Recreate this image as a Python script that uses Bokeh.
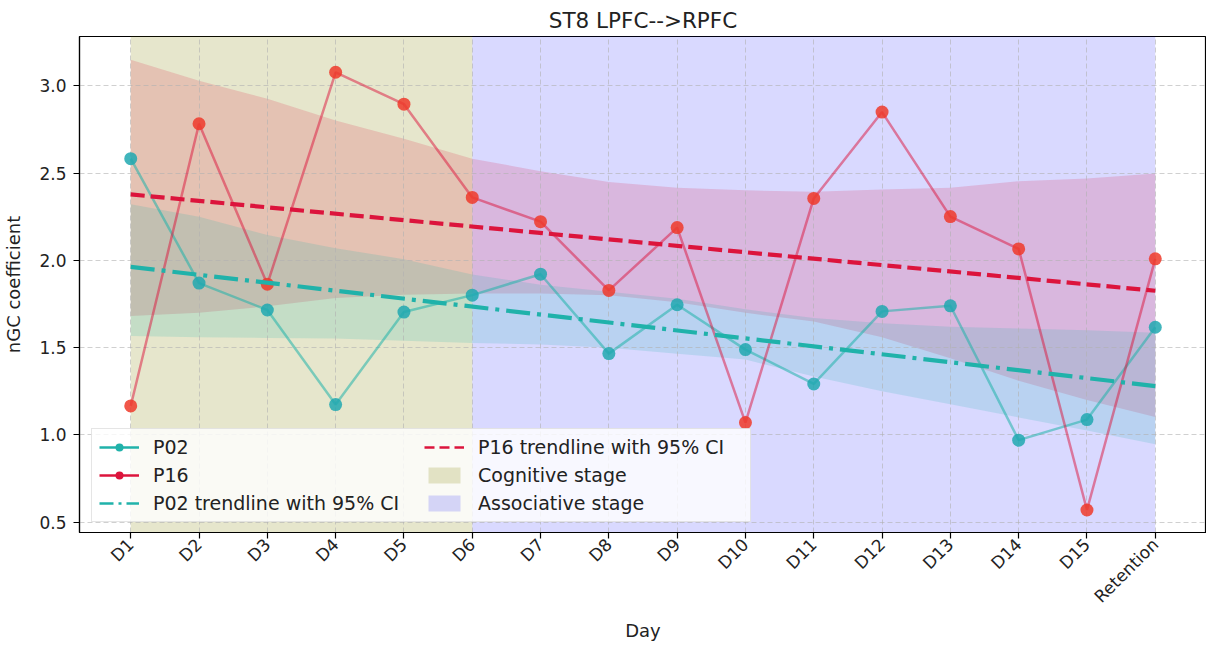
import math
from bokeh.plotting import figure
from bokeh.models import (Range1d, FixedTicker, PrintfTickFormatter, Legend,
                          LegendItem, ColumnDataSource)
from bokeh.embed import file_html
from bokeh.resources import INLINE

# ---------------- data ----------------
days = ["D1", "D2", "D3", "D4", "D5", "D6", "D7", "D8", "D9", "D10",
        "D11", "D12", "D13", "D14", "D15", "Retention"]
p02 = [2.583, 1.870, 1.716, 1.174, 1.704, 1.801, 1.921, 1.466, 1.746, 1.489,
       1.292, 1.708, 1.740, 0.970, 1.088, 1.617]
p16 = [1.166, 2.783, 1.864, 3.078, 2.895, 2.361, 2.222, 1.828, 2.188, 1.071,
       2.355, 2.850, 2.251, 2.066, 0.570, 2.009]
# trendline values at first day and at Retention
p02_trend = [1.963, 1.280]
p16_trend = [2.378, 1.826]
# 95% CI band edges per day
p02_ci_upper = [2.322, 2.250, 2.146, 2.070, 2.007, 1.920, 1.860, 1.820, 1.780,
                1.720, 1.670, 1.640, 1.620, 1.610, 1.600, 1.585]
p02_ci_lower = [1.567, 1.560, 1.556, 1.552, 1.540, 1.527, 1.518, 1.499, 1.465,
                1.432, 1.335, 1.250, 1.176, 1.100, 1.025, 0.947]
p16_ci_upper = [3.150, 3.030, 2.926, 2.802, 2.697, 2.583, 2.511, 2.450, 2.416,
                2.402, 2.393, 2.406, 2.416, 2.454, 2.469, 2.498]
p16_ci_lower = [1.682, 1.700, 1.737, 1.784, 1.803, 1.810, 1.810, 1.800, 1.760,
                1.700, 1.650, 1.560, 1.440, 1.310, 1.200, 1.103]
cognitive_stage = ("D1", "D6")
associative_stage = ("D6", "Retention")
y_ticks = [0.5, 1.0, 1.5, 2.0, 2.5, 3.0]
y_limits = (0.441, 3.283)

FONT = "DejaVu Sans"
NAN = float("nan")
xs = list(range(len(days)))
src = ColumnDataSource(dict(x=xs, p02=p02, p16=p16,
                            p02u=p02_ci_upper, p02l=p02_ci_lower,
                            p16u=p16_ci_upper, p16l=p16_ci_lower))

p = figure(width=1206, height=643,
           x_range=Range1d(-0.75, len(days) - 0.25),
           y_range=Range1d(*y_limits),
           output_backend="svg", toolbar_location=None,
           title="ST8 LPFC-->RPFC",
           min_border_left=79, min_border_right=0,
           min_border_top=36, min_border_bottom=107)
p.background_fill_color = "white"
p.border_fill_color = "white"
p.outline_line_color = "black"
p.outline_line_width = 1.2
p.outline_line_alpha = 1.0

p.title.text_font = FONT
p.title.text_font_size = "21.5px"
p.title.text_font_style = "normal"
p.title.align = "center"
p.title.text_color = "#222222"
p.title.standoff = 8

# stage shading
cog = p.quad(left=[days.index(cognitive_stage[0])], right=[days.index(cognitive_stage[1])],
             bottom=[y_limits[0] - 1], top=[y_limits[1] + 1],
             fill_color="olive", fill_alpha=0.2, line_color=None, level="image")
assoc = p.quad(left=[days.index(associative_stage[0])], right=[days.index(associative_stage[1])],
               bottom=[y_limits[0] - 1], top=[y_limits[1] + 1],
               fill_color="blue", fill_alpha=0.15, line_color=None, level="image")

# CI bands
p.varea(x="x", y1="p16l", y2="p16u", source=src, fill_color="crimson",
        fill_alpha=0.17, level="image")
p.varea(x="x", y1="p02l", y2="p02u", source=src, fill_color="lightseagreen",
        fill_alpha=0.17, level="image")

# series
p.line("x", "p02", source=src, line_color="lightseagreen", line_width=2.5, line_alpha=0.55)
p.scatter("x", "p02", source=src, size=13, fill_color="#20a8b0", fill_alpha=0.85,
          line_color=None)
p.line("x", "p16", source=src, line_color="crimson", line_width=2.5, line_alpha=0.5)
p.scatter("x", "p16", source=src, size=13, fill_color="#ee3a2a", fill_alpha=0.85,
          line_color=None)

# trendlines
tx = [0, len(days) - 1]
p.line(tx, p02_trend, line_color="lightseagreen", line_width=4.2, line_dash="24 7 4 7")
p.line(tx, p16_trend, line_color="crimson", line_width=4.2, line_dash="14 6")

# legend-only renderers (no visible data)
lg_p02_l = p.line([NAN], [NAN], line_color="lightseagreen", line_width=2.5)
lg_p02_m = p.scatter([NAN], [NAN], size=12, fill_color="lightseagreen", line_color=None)
lg_p16_l = p.line([NAN], [NAN], line_color="crimson", line_width=2.5)
lg_p16_m = p.scatter([NAN], [NAN], size=12, fill_color="crimson", line_color=None)
lg_t02 = p.line([NAN], [NAN], line_color="lightseagreen", line_width=2.5, line_dash="14 5 3 5")
lg_t16 = p.line([NAN], [NAN], line_color="crimson", line_width=2.5, line_dash="10 5")

legend = Legend(items=[
    LegendItem(label="P02", renderers=[lg_p02_l, lg_p02_m]),
    LegendItem(label="P16", renderers=[lg_p16_l, lg_p16_m]),
    LegendItem(label="P02 trendline with 95% CI", renderers=[lg_t02]),
    LegendItem(label="P16 trendline with 95% CI", renderers=[lg_t16]),
    LegendItem(label="Cognitive stage", renderers=[cog]),
    LegendItem(label="Associative stage", renderers=[assoc]),
], location=(12, 10), ncols=2)
legend.label_text_font = FONT
legend.label_text_font_size = "19px"
legend.label_text_color = "#222222"
legend.glyph_width = 40
legend.glyph_height = 20
legend.label_height = 20
legend.label_standoff = 14
legend.label_width = 265
legend.spacing = 6
legend.padding = 7
legend.margin = 0
legend.background_fill_color = "white"
legend.background_fill_alpha = 0.8
legend.border_line_color = "#cccccc"
legend.border_line_width = 1
p.add_layout(legend)

# axes
p.xaxis.ticker = FixedTicker(ticks=xs)
p.xaxis.major_label_overrides = {i: d for i, d in enumerate(days)}
p.xaxis.major_label_orientation = math.pi / 4
p.yaxis.ticker = FixedTicker(ticks=y_ticks)
p.yaxis.formatter = PrintfTickFormatter(format="%.1f")
p.xaxis.axis_label = "Day"
p.yaxis.axis_label = "nGC coefficient"
for ax in (p.xaxis[0], p.yaxis[0]):
    ax.axis_label_text_font = FONT
    ax.axis_label_text_font_size = "18px"
    ax.axis_label_text_font_style = "normal"
    ax.axis_label_text_color = "#222222"
    ax.major_label_text_font = FONT
    ax.major_label_text_font_size = "17px"
    ax.major_label_text_color = "#222222"
    ax.axis_line_color = "black"
    ax.axis_line_width = 1.2
    ax.major_tick_line_color = "black"
    ax.major_tick_line_width = 1.2
    ax.major_tick_out = 6
    ax.major_tick_in = 0
    ax.minor_tick_line_color = None
    ax.major_label_standoff = 7
p.xaxis.major_label_standoff = 3
p.yaxis.axis_label_standoff = 12
p.xaxis.axis_label_standoff = 3

for g in (p.xgrid[0], p.ygrid[0]):
    g.grid_line_color = "#b0b0b0"
    g.grid_line_alpha = 0.6
    g.grid_line_dash = "5 3"
    g.grid_line_width = 1

open("out.html", "w").write(file_html(p, INLINE))
